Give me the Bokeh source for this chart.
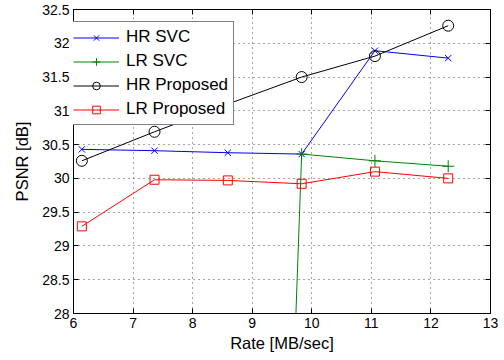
from bokeh.plotting import figure
from bokeh.models import LinearAxis, Range1d, FixedTicker, Legend, LegendItem
from bokeh.embed import file_html
from bokeh.resources import INLINE

rate = [6.14, 7.36, 8.59, 9.83, 11.06, 12.29]
hr_svc = [30.43, 30.41, 30.38, 30.36, 31.89, 31.78]
lr_svc = [0.0, 0.0, 0.0, 30.36, 30.26, 30.18]
hr_prop = [30.26, 30.69, 31.1, 31.5, 31.81, 32.26]
lr_prop = [29.29, 29.98, 29.97, 29.92, 30.1, 30.0]
x_ticks = [6, 7, 8, 9, 10, 11, 12, 13]
y_ticks = [28, 28.5, 29, 29.5, 30, 30.5, 31, 31.5, 32, 32.5]

FONT = "Liberation Sans"

p = figure(width=504, height=360, output_backend="svg", toolbar_location=None,
           x_range=Range1d(6, 13), y_range=Range1d(28, 32.5),
           min_border_left=73, min_border_right=14, min_border_top=9, min_border_bottom=47)
p.background_fill_color = "white"
p.border_fill_color = "white"
p.outline_line_color = "black"
p.outline_line_width = 1

for ax in (p.xaxis[0], p.yaxis[0]):
    ax.major_label_text_font = FONT
    ax.major_label_text_font_size = "14px"
    ax.major_label_text_color = "black"
    ax.axis_label_text_font = FONT
    ax.axis_label_text_font_size = "16.5px"
    ax.axis_label_text_font_style = "normal"
    ax.axis_label_text_color = "black"
    ax.major_tick_in = 5
    ax.major_tick_out = 0
    ax.minor_tick_in = 0
    ax.minor_tick_out = 0
    ax.axis_line_color = "black"
    ax.major_tick_line_color = "black"
p.xaxis[0].ticker = FixedTicker(ticks=x_ticks)
p.yaxis[0].ticker = FixedTicker(ticks=y_ticks)
p.xaxis[0].axis_label = "Rate [MB/sec]"
p.yaxis[0].axis_label = "PSNR [dB]"
p.xaxis[0].axis_label_standoff = 3
p.yaxis[0].axis_label_standoff = 8
p.xaxis[0].major_label_standoff = 4
p.yaxis[0].major_label_standoff = 4

top = LinearAxis(ticker=FixedTicker(ticks=x_ticks),
                 major_label_overrides={t: "" for t in x_ticks},
                 major_tick_in=5, major_tick_out=0, minor_tick_in=0, minor_tick_out=0)
right = LinearAxis(ticker=FixedTicker(ticks=y_ticks),
                   major_label_overrides={t: "" for t in y_ticks},
                   major_tick_in=5, major_tick_out=0, minor_tick_in=0, minor_tick_out=0)
p.add_layout(top, "above")
p.add_layout(right, "right")

for g in (p.xgrid[0], p.ygrid[0]):
    g.grid_line_color = "black"
    g.grid_line_alpha = 0.7
    g.grid_line_dash = "1 4"
    g.grid_line_width = 1
p.xgrid[0].ticker = FixedTicker(ticks=x_ticks)
p.ygrid[0].ticker = FixedTicker(ticks=y_ticks)

items = []
l1 = p.line(rate, hr_svc, line_color="#0000ff", line_width=1)
m1 = p.scatter(rate, hr_svc, marker="x", size=9, line_color="#0000ff", line_width=1)
items.append(LegendItem(label="HR SVC", renderers=[l1, m1]))
l2 = p.line(rate, lr_svc, line_color="#008000", line_width=1)
m2 = p.scatter(rate, lr_svc, marker="cross", size=12, line_color="#008000", line_width=1)
items.append(LegendItem(label="LR SVC", renderers=[l2, m2]))
l3 = p.line(rate, hr_prop, line_color="black", line_width=1)
m3 = p.scatter(rate, hr_prop, marker="circle", size=11, line_color="black", fill_color=None, line_width=1)
items.append(LegendItem(label="HR Proposed", renderers=[l3, m3]))
l4 = p.line(rate, lr_prop, line_color="#ff0000", line_width=1)
m4 = p.scatter(rate, lr_prop, marker="square", size=9, line_color="#ff0000", fill_color=None, line_width=1)
items.append(LegendItem(label="LR Proposed", renderers=[l4, m4]))

leg = Legend(items=items, location=(-6, 188))
leg.label_text_font = FONT
leg.label_text_font_size = "17px"
leg.label_text_color = "black"
leg.border_line_color = "black"
leg.border_line_width = 1.5
leg.background_fill_color = "white"
leg.background_fill_alpha = 1
leg.glyph_width = 46
leg.glyph_height = 19
leg.label_height = 19
leg.spacing = 4
leg.padding = 5
leg.margin = 0
leg.label_standoff = 7
p.add_layout(leg, "center")

open("out.html", "w").write(file_html(p, INLINE))
